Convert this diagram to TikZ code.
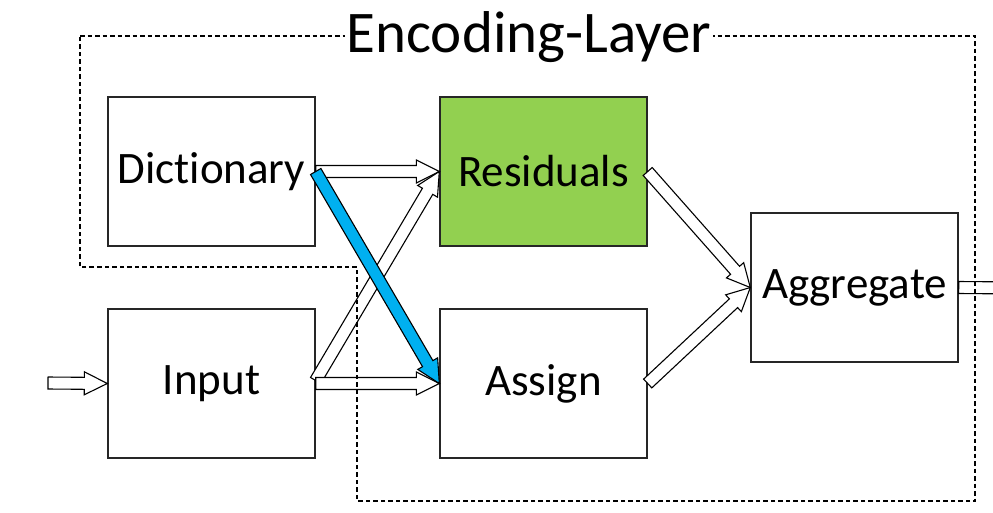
\documentclass[tikz,border=0pt]{standalone}
\usepackage{fontspec}
\setmainfont[Ligatures={NoCommon,NoRequired,NoContextual}]{Carlito}
\usetikzlibrary{calc}
\definecolor{resgreen}{HTML}{92D050}
\definecolor{arrblue}{HTML}{00B0F0}
\tikzset{
  box/.style={draw=black!85, line width=1.4pt, minimum width=207pt, minimum height=149pt, inner sep=0pt, font=\fontsize{45}{52}\selectfont},
  barrow/.style={draw=black, line width=1.1pt, fill=white, line join=miter},
  frame/.style={draw=black, line width=2.6pt, dash pattern=on 4.5pt off 3pt},
}
\newcommand\blockarrow[3]{%
  \coordinate (ba-s) at #2;
  \coordinate (ba-e) at #3;
  \coordinate (ba-p) at ($(ba-e)!23pt!(ba-s)$);
  \draw[barrow,#1] ($(ba-s)!6pt!90:(ba-e)$) -- ($(ba-p)!6pt!90:(ba-e)$) -- ($(ba-p)!11.5pt!90:(ba-e)$) -- (ba-e) -- ($(ba-p)!11.5pt!-90:(ba-e)$) -- ($(ba-p)!6pt!-90:(ba-e)$) -- ($(ba-s)!6pt!-90:(ba-e)$) -- cycle;}
\begin{document}
\begin{tikzpicture}[x=1pt,y=-1pt]
\useasboundingbox (0,0) rectangle (993,512);
\clip (0,0) rectangle (993,512);
\node[box] (dict) at (211.5,171.5) {Dictionary};
\node[box, fill=resgreen] (res) at (543.5,171.5) {Residuals};
\node[box] (input) at (211.5,383.5) {Input};
\node[box] (assign) at (543.5,383.5) {Assign};
\node[box] (agg) at (854.5,287.5) {Aggregate};
\coordinate (src) at (48,383);
\coordinate (out) at (1020,288);
\blockarrow{}{(src)}{(input.west)}
\blockarrow{}{(dict.east)}{(res.west)}
\blockarrow{}{($(input.east)+(0,-3)$)}{(res.west)}
\blockarrow{}{(input.east)}{(assign.west)}
\blockarrow{fill=arrblue}{(dict.east)}{(assign.west)}
\blockarrow{}{(res.east)}{(agg.west)}
\blockarrow{}{(assign.east)}{(agg.west)}
\blockarrow{}{(agg.east)}{(out)}
\draw[frame] (80,36) -- (975,36) -- (975,501) -- (357,501) -- (357,267) -- (80,267) -- cycle;
\node[fill=white, inner sep=2pt, anchor=base, font=\fontsize{59}{64}\selectfont] (title) at (529,52) {Encoding-Layer};
\end{tikzpicture}
\end{document}
